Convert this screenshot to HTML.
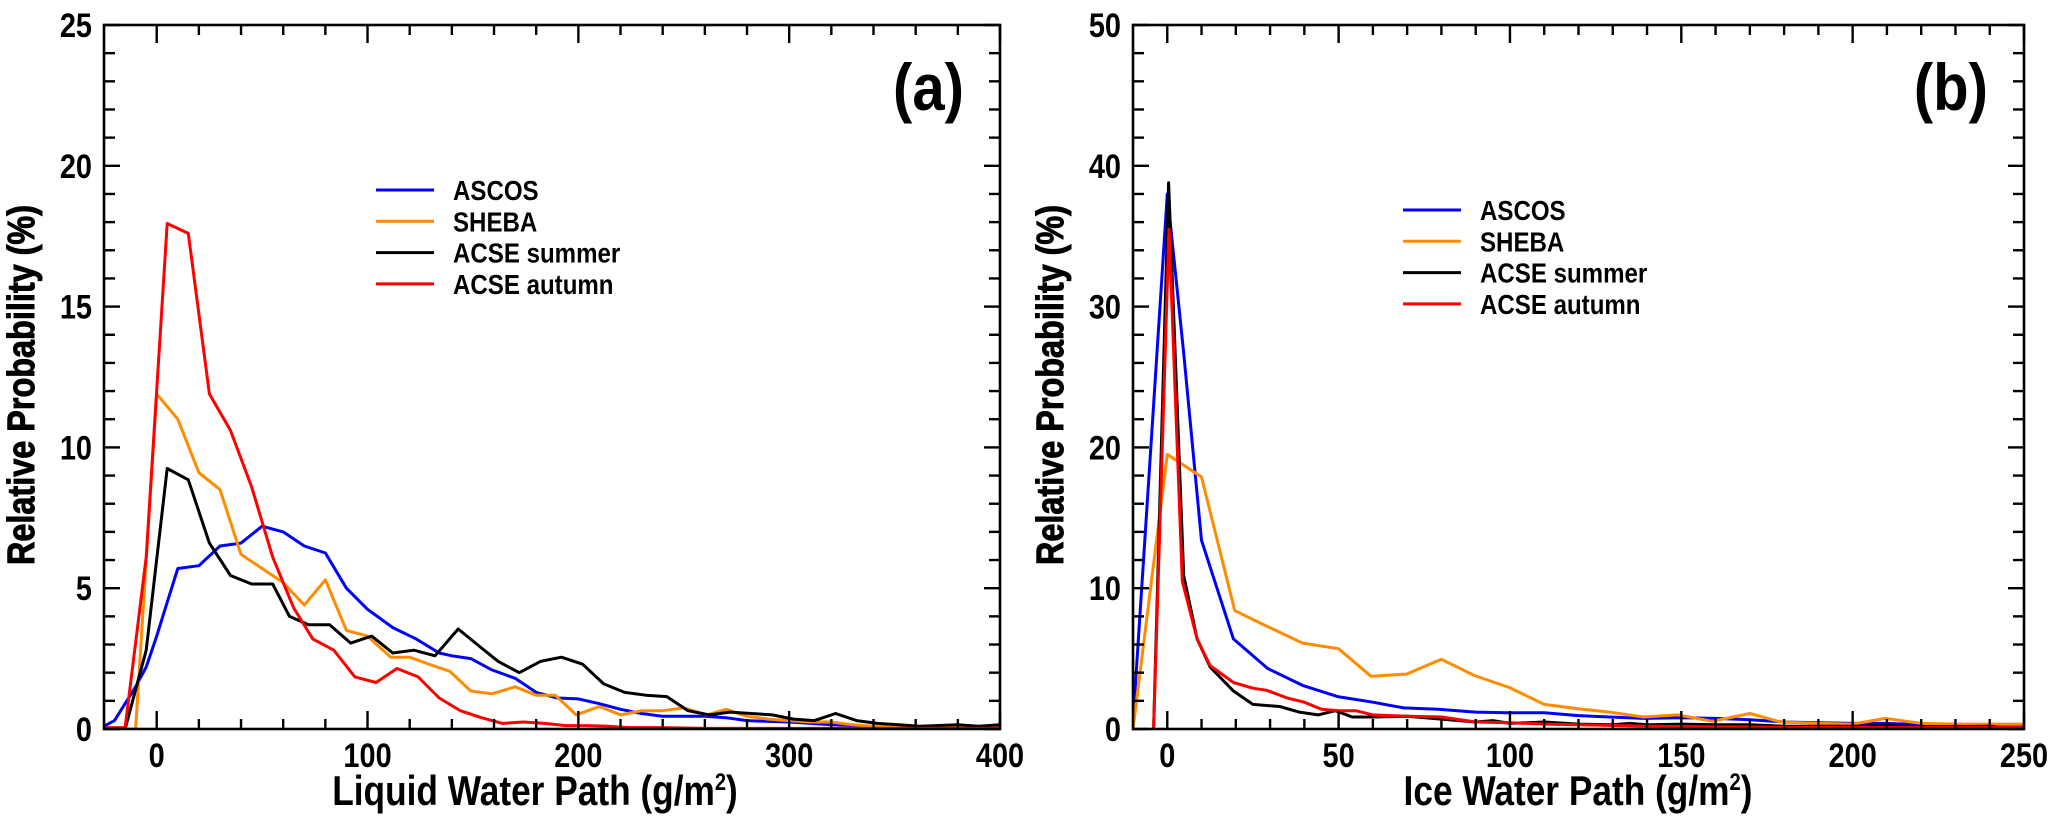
<!DOCTYPE html>
<html><head><meta charset="utf-8"><style>
html,body{margin:0;padding:0;background:#fff;}
svg{display:block;}
text{font-family:"Liberation Sans Narrow","Liberation Sans",sans-serif;font-weight:bold;fill:#000;}
</style></head><body>
<svg id="chart" width="2067" height="827" viewBox="0 0 2067 827" xmlns="http://www.w3.org/2000/svg"></svg>
<script>
// ---- Panel (a) data: Liquid Water Path ----
const lwpAscosX=[-25,-20,-10,-5,0,5,10,20,30,40,50,60,70,80,90,100,112,123,134,140,149,159,170,180,190,200,210,220,230,240,250,260,270,280,290,300,310,320,340,360,380,400];
const lwpAscosY=[0.1,0.3,1.5,2.2,3.3,4.5,5.7,5.8,6.5,6.6,7.2,7.0,6.5,6.25,5.0,4.25,3.6,3.2,2.7,2.6,2.5,2.1,1.8,1.3,1.1,1.07,0.9,0.7,0.55,0.45,0.45,0.45,0.4,0.3,0.27,0.25,0.2,0.15,0.1,0.05,0.05,0.05];
const lwpShebaX=[-25,-10,0,10,20,30,40,50,60,70,80,90,100,111,120,131,139,149,159,170,180,189,199,210,220,230,240,250,261,270,280,290,300,310,320,330,340,360,400];
const lwpShebaY=[0,0,11.9,11.0,9.1,8.5,6.2,5.7,5.2,4.4,5.3,3.5,3.3,2.55,2.55,2.25,2.05,1.35,1.25,1.5,1.2,1.2,0.5,0.8,0.5,0.65,0.65,0.75,0.5,0.7,0.45,0.35,0.3,0.25,0.25,0.15,0.1,0.05,0.05];
const lwpSummerX=[-25,-15,-5,5,15,25,35,45,55,63,72,82,92,102,112,122,132,143,152,162,172,182,192,202,212,222,232,242,252,262,272,282,292,302,312,322,332,342,352,362,380,390,400];
const lwpSummerY=[0,0,2.8,9.25,8.85,6.6,5.45,5.15,5.15,4.0,3.7,3.7,3.05,3.3,2.7,2.8,2.6,3.55,3.0,2.4,2.0,2.4,2.55,2.3,1.6,1.3,1.2,1.15,0.65,0.5,0.6,0.55,0.5,0.35,0.3,0.55,0.3,0.2,0.15,0.1,0.15,0.1,0.15];
const lwpAutumnX=[-25,-15,-5,5,15,25,35,45,55,65,74,84,94,104,114,124,134,144,154,164,174,184,194,204,214,224,240,260,400];
const lwpAutumnY=[0.05,0.05,6.1,17.95,17.6,11.9,10.6,8.6,6.1,4.3,3.2,2.8,1.85,1.65,2.15,1.85,1.1,0.65,0.4,0.2,0.25,0.2,0.12,0.12,0.1,0.05,0.05,0.02,0.02];
// ---- Panel (b) data: Ice Water Path ----
const iwpAscosX=[-10,0,4.8,10,19.3,29.3,39.5,49.7,60,69,79,90,99,110,120,129,139,150,160,170,180,190,200,210,220,230,240,250];
const iwpAscosY=[0.5,38,26.7,13.4,6.4,4.3,3.1,2.3,1.9,1.5,1.4,1.2,1.15,1.15,0.95,0.85,0.75,0.8,0.75,0.65,0.5,0.45,0.4,0.4,0.3,0.25,0.2,0.2];
const iwpShebaX=[-10,0,10,19.7,29.9,39.5,50,59.4,69.8,80,89.6,99.8,110,119.5,129,139,149,159,170,179,190,200,209.5,220,230,240,250];
const iwpShebaY=[0,19.5,17.9,8.4,7.2,6.1,5.7,3.75,3.9,4.95,3.8,2.95,1.75,1.45,1.2,0.85,1.0,0.55,1.1,0.5,0.4,0.35,0.75,0.4,0.35,0.35,0.35];
const iwpSummerX=[-4,0.4,4.8,8.7,12.5,19.3,25,32.8,38.5,44,49,54,60,70,80,90,95,100,110,120,130,135,140,150,160,170,180,200,210,220,240,245,250];
const iwpSummerY=[0,38.8,10.9,6.4,4.4,2.7,1.75,1.6,1.2,1.0,1.3,0.85,0.85,0.9,0.7,0.5,0.6,0.4,0.5,0.35,0.3,0.4,0.3,0.35,0.3,0.3,0.2,0.2,0.25,0.15,0.2,0.05,0.05];
const iwpAutumnX=[-4,0.5,4.4,8.7,12.5,19.3,25,29,35,40,45,50,55,60,70,80,90,100,110,120,140,160,200,250];
const iwpAutumnY=[0,35.5,10.5,6.4,4.5,3.3,2.9,2.75,2.2,1.9,1.4,1.3,1.3,1.0,0.9,0.85,0.5,0.45,0.35,0.3,0.2,0.15,0.1,0.1];
const seriesNames=["ASCOS","SHEBA","ACSE summer","ACSE autumn"];
const seriesColors=["#0000ff","#ff8c00","#000000","#ff0000"];
const lwpXTicks=[0,100,200,300,400];
const lwpYTicks=[0,5,10,15,20,25];
const iwpXTicks=[0,50,100,150,200,250];
const iwpYTicks=[0,10,20,30,40,50];

const NS="http://www.w3.org/2000/svg";
const svg=document.getElementById('chart');
function mk(tag,attrs,parent){const e=document.createElementNS(NS,tag);for(const k in attrs)e.setAttribute(k,attrs[k]);(parent||svg).appendChild(e);return e;}
function ntext(parent,x,y,anchor,size,sxv){
  return mk('text',{x:0,y:0,'text-anchor':anchor,'font-size':size,transform:'translate('+x+','+y+') scale('+sxv+',1)'},parent);
}

function panel(cfg){
  const g=mk('g',{});
  
  
  const {L,R,T,B,xmin,xmax,ymin,ymax}=cfg;
  const sx=v=>L+(v-xmin)/(xmax-xmin)*(R-L);
  const sy=v=>B-(v-ymin)/(ymax-ymin)*(B-T);
  const clip='clip-'+cfg.name;
  const cp=mk('clipPath',{id:clip},g);mk('rect',{x:L,y:T,width:R-L,height:B-T},cp);
  cfg.series.forEach((s,i)=>{
    let d='';
    s.x.forEach((xv,j)=>{d+=(j?'L':'M')+sx(xv).toFixed(1)+','+sy(s.y[j]).toFixed(1);});
    const p=mk('path',{d:d,fill:'none',stroke:seriesColors[i],'stroke-width':3,'stroke-linejoin':'round','clip-path':'url(#'+clip+')'},g);
    
    
  });
  const fr=mk('rect',{x:L,y:T,width:R-L,height:B-T,fill:'none',stroke:'#000','stroke-width':2.6},g);
  
  
  for(let v=ymin;v<=ymax+1e-9;v+=cfg.yMinor){
    const major=Math.abs(v/cfg.yMajor-Math.round(v/cfg.yMajor))<1e-6;
    const len=major?16:11,y=sy(v);
    mk('line',{x1:L,y1:y,x2:L+len,y2:y,stroke:'#000','stroke-width':2.4},g);
    mk('line',{x1:R,y1:y,x2:R-len,y2:y,stroke:'#000','stroke-width':2.4},g);
  }
  for(let v=cfg.xStart;v<=xmax+1e-9;v+=cfg.xMinor){
    const major=Math.abs(v/cfg.xMajor-Math.round(v/cfg.xMajor))<1e-6;
    const len=major?18:10,x=sx(v);
    mk('line',{x1:x,y1:B,x2:x,y2:B-len,stroke:'#000','stroke-width':2.4},g);
    mk('line',{x1:x,y1:T,x2:x,y2:T+len,stroke:'#000','stroke-width':2.4},g);
  }
  cfg.yTicks.forEach(v=>{
    const t=ntext(g,L-12,sy(v)+12,'end',34,0.85);t.textContent=v;
    
    
  });
  cfg.xTicks.forEach(v=>{
    const t=ntext(g,sx(v),B+38,'middle',34,0.85);t.textContent=v;
    
    
  });
  const xt=ntext(g,cfg.xTitleX,805,'middle',42,0.84);
  xt.innerHTML=cfg.xTitle+' (g/m<tspan font-size="24" dy="-15">2</tspan><tspan dy="15">)</tspan>';
  
  
  const yt=mk('text',{x:0,y:0,'text-anchor':'middle','font-size':38,textLength:360,lengthAdjust:'spacingAndGlyphs',transform:'translate('+(L-70)+',385) rotate(-90)',style:'font-family:"Liberation Sans",sans-serif;stroke:#000;stroke-width:1'},g);
  yt.textContent='Relative Probability (%)';
  
  
  const pl=ntext(g,R-36,110,'end',66,0.88);pl.textContent=cfg.label;
  
  
  const lg=mk('g',{},g);
  
  
  seriesNames.forEach((n,i)=>{
    const y=cfg.legY+i*31.3;
    mk('line',{x1:cfg.legX,y1:y,x2:cfg.legX+58,y2:y,stroke:seriesColors[i],'stroke-width':3},lg);
    const t=ntext(lg,cfg.legX+77,y+10,'start',28,0.86);t.textContent=n;
    
    
  });
}

panel({name:'panel-a',label:'(a)',L:104,R:1000,T:25,B:729,xmin:-25,xmax:400,ymin:0,ymax:25,
  yMinor:1,yMajor:5,xStart:0,xMinor:20,xMajor:100,yTicks:lwpYTicks,xTicks:lwpXTicks,
  xTitle:'Liquid Water Path',xTitleX:535,legX:376,legY:190,
  series:[{x:lwpAscosX,y:lwpAscosY},{x:lwpShebaX,y:lwpShebaY},{x:lwpSummerX,y:lwpSummerY},{x:lwpAutumnX,y:lwpAutumnY}]});
panel({name:'panel-b',label:'(b)',L:1133,R:2024,T:25,B:729,xmin:-10,xmax:250,ymin:0,ymax:50,
  yMinor:2,yMajor:10,xStart:0,xMinor:10,xMajor:50,yTicks:iwpYTicks,xTicks:iwpXTicks,
  xTitle:'Ice Water Path',xTitleX:1578,legX:1403,legY:210,
  series:[{x:iwpAscosX,y:iwpAscosY},{x:iwpShebaX,y:iwpShebaY},{x:iwpSummerX,y:iwpSummerY},{x:iwpAutumnX,y:iwpAutumnY}]});
</script>
</body></html>
